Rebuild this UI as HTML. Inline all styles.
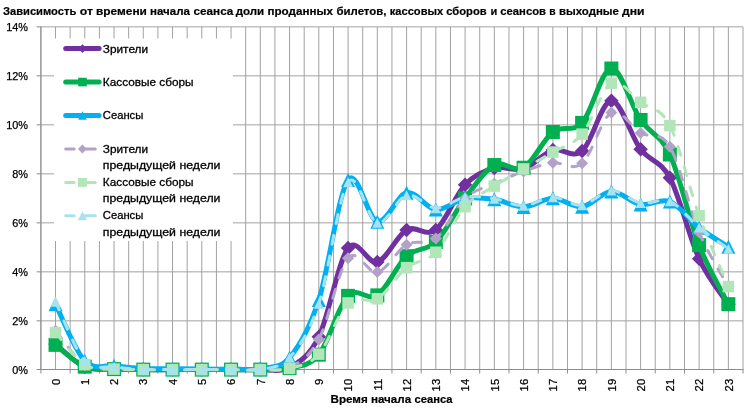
<!DOCTYPE html><html><head><meta charset="utf-8"><style>html,body{margin:0;padding:0;background:#fff}svg{display:block}</style></head><body><svg width="747" height="408" viewBox="0 0 747 408">
<rect width="747" height="408" fill="#fff"/>
<path d="M40.90 26.85V369.85M55.53 26.85V369.85M70.15 26.85V369.85M84.78 26.85V369.85M99.41 26.85V369.85M114.04 26.85V369.85M128.66 26.85V369.85M143.29 26.85V369.85M157.92 26.85V369.85M172.54 26.85V369.85M187.17 26.85V369.85M201.80 26.85V369.85M216.43 26.85V369.85M231.05 26.85V369.85M245.68 26.85V369.85M260.31 26.85V369.85M274.93 26.85V369.85M289.56 26.85V369.85M304.19 26.85V369.85M318.81 26.85V369.85M333.44 26.85V369.85M348.07 26.85V369.85M362.70 26.85V369.85M377.32 26.85V369.85M391.95 26.85V369.85M406.58 26.85V369.85M421.20 26.85V369.85M435.83 26.85V369.85M450.46 26.85V369.85M465.09 26.85V369.85M479.71 26.85V369.85M494.34 26.85V369.85M508.97 26.85V369.85M523.59 26.85V369.85M538.22 26.85V369.85M552.85 26.85V369.85M567.48 26.85V369.85M582.10 26.85V369.85M596.73 26.85V369.85M611.36 26.85V369.85M625.98 26.85V369.85M640.61 26.85V369.85M655.24 26.85V369.85M669.86 26.85V369.85M684.49 26.85V369.85M699.12 26.85V369.85M713.75 26.85V369.85M728.37 26.85V369.85M743.00 26.85V369.85M40.90 26.85H743.00M40.90 75.85H743.00M40.90 124.85H743.00M40.90 173.85H743.00M40.90 222.85H743.00M40.90 271.85H743.00M40.90 320.85H743.00" stroke="#a2a2a2" stroke-width="1" fill="none"/>
<path d="M40.90 369.50V373.50M70.15 369.50V373.50M99.41 369.50V373.50M128.66 369.50V373.50M157.92 369.50V373.50M187.17 369.50V373.50M216.43 369.50V373.50M245.68 369.50V373.50M274.93 369.50V373.50M304.19 369.50V373.50M333.44 369.50V373.50M362.70 369.50V373.50M391.95 369.50V373.50M421.20 369.50V373.50M450.46 369.50V373.50M479.71 369.50V373.50M508.97 369.50V373.50M538.22 369.50V373.50M567.48 369.50V373.50M596.73 369.50V373.50M625.98 369.50V373.50M655.24 369.50V373.50M684.49 369.50V373.50M713.75 369.50V373.50M743.00 369.50V373.50M36.60 26.85H40.90M36.60 75.85H40.90M36.60 124.85H40.90M36.60 173.85H40.90M36.60 222.85H40.90M36.60 271.85H40.90M36.60 320.85H40.90M36.60 369.50H40.90M40.40 369.50H743.50M40.90 26.35V370.00" stroke="#8c8c8c" stroke-width="1" fill="none"/>
<rect x="54" y="38.5" width="179" height="202.5" fill="#fff"/>
<path d="M55.53 344.12 C60.40 347.92 75.03 362.79 84.78 366.91 C94.53 371.03 104.28 368.42 114.04 368.87 C123.79 369.32 133.54 369.48 143.29 369.61 C153.04 369.73 162.79 369.61 172.54 369.61 C182.30 369.61 192.05 369.61 201.80 369.61 C211.55 369.61 221.30 369.61 231.05 369.61 C240.80 369.61 250.55 369.97 260.31 369.61 C270.06 369.24 279.81 372.87 289.56 367.40 C299.31 361.93 309.06 356.66 318.81 336.78 C328.57 316.89 338.32 260.54 348.07 248.09 C357.82 235.63 367.57 265.07 377.32 262.05 C387.07 259.03 396.83 235.30 406.58 229.96 C416.33 224.61 426.08 237.51 435.83 229.96 C445.58 222.40 455.33 194.96 465.09 184.63 C474.84 174.30 484.59 170.58 494.34 167.97 C504.09 165.36 513.84 171.93 523.59 168.95 C533.35 165.97 543.10 153.07 552.85 150.09 C562.60 147.10 572.35 159.27 582.10 151.07 C591.85 142.86 601.60 101.13 611.36 100.84 C621.11 100.55 630.86 136.53 640.61 149.35 C650.36 162.17 660.11 159.52 669.86 177.77 C679.62 196.02 689.37 237.80 699.12 258.87 C708.87 279.94 723.50 296.64 728.37 304.19" stroke="#7030A0" stroke-width="5" fill="none" stroke-linecap="round" stroke-linejoin="round"/>
<path d="M55.53 336.88L62.78 344.12L55.53 351.38L48.28 344.12Z" fill="#7030A0"/>
<path d="M84.78 359.66L92.03 366.91L84.78 374.16L77.53 366.91Z" fill="#7030A0"/>
<path d="M114.04 361.62L121.29 368.87L114.04 376.12L106.79 368.87Z" fill="#7030A0"/>
<path d="M143.29 362.36L150.54 369.61L143.29 376.86L136.04 369.61Z" fill="#7030A0"/>
<path d="M172.54 362.36L179.79 369.61L172.54 376.86L165.29 369.61Z" fill="#7030A0"/>
<path d="M201.80 362.36L209.05 369.61L201.80 376.86L194.55 369.61Z" fill="#7030A0"/>
<path d="M231.05 362.36L238.30 369.61L231.05 376.86L223.80 369.61Z" fill="#7030A0"/>
<path d="M260.31 362.36L267.56 369.61L260.31 376.86L253.06 369.61Z" fill="#7030A0"/>
<path d="M289.56 360.15L296.81 367.40L289.56 374.65L282.31 367.40Z" fill="#7030A0"/>
<path d="M318.81 329.53L326.06 336.78L318.81 344.03L311.56 336.78Z" fill="#7030A0"/>
<path d="M348.07 240.84L355.32 248.09L348.07 255.34L340.82 248.09Z" fill="#7030A0"/>
<path d="M377.32 254.80L384.57 262.05L377.32 269.30L370.07 262.05Z" fill="#7030A0"/>
<path d="M406.58 222.71L413.83 229.96L406.58 237.21L399.33 229.96Z" fill="#7030A0"/>
<path d="M435.83 222.71L443.08 229.96L435.83 237.21L428.58 229.96Z" fill="#7030A0"/>
<path d="M465.09 177.38L472.34 184.63L465.09 191.88L457.84 184.63Z" fill="#7030A0"/>
<path d="M494.34 160.72L501.59 167.97L494.34 175.22L487.09 167.97Z" fill="#7030A0"/>
<path d="M523.59 161.70L530.84 168.95L523.59 176.20L516.34 168.95Z" fill="#7030A0"/>
<path d="M552.85 142.84L560.10 150.09L552.85 157.34L545.60 150.09Z" fill="#7030A0"/>
<path d="M582.10 143.82L589.35 151.07L582.10 158.32L574.85 151.07Z" fill="#7030A0"/>
<path d="M611.36 93.59L618.61 100.84L611.36 108.09L604.11 100.84Z" fill="#7030A0"/>
<path d="M640.61 142.10L647.86 149.35L640.61 156.60L633.36 149.35Z" fill="#7030A0"/>
<path d="M669.86 170.52L677.11 177.77L669.86 185.02L662.61 177.77Z" fill="#7030A0"/>
<path d="M699.12 251.62L706.37 258.87L699.12 266.12L691.87 258.87Z" fill="#7030A0"/>
<path d="M728.37 296.94L735.62 304.19L728.37 311.44L721.12 304.19Z" fill="#7030A0"/>
<path d="M55.53 344.86 C60.40 348.49 75.03 362.62 84.78 366.67 C94.53 370.71 104.28 368.62 114.04 369.12 C123.79 369.61 133.54 369.52 143.29 369.61 C153.04 369.69 162.79 369.61 172.54 369.61 C182.30 369.61 192.05 369.61 201.80 369.61 C211.55 369.61 221.30 369.61 231.05 369.61 C240.80 369.61 250.55 369.85 260.31 369.61 C270.06 369.36 279.81 370.63 289.56 368.14 C299.31 365.64 309.06 366.71 318.81 354.66 C328.57 342.61 338.32 305.74 348.07 295.86 C357.82 285.98 367.57 301.99 377.32 295.37 C387.07 288.75 396.83 265.07 406.58 256.17 C416.33 247.27 426.08 251.60 435.83 241.96 C445.58 232.32 455.33 211.17 465.09 198.35 C474.84 185.53 484.59 170.13 494.34 165.03 C504.09 159.93 513.84 173.24 523.59 167.73 C533.35 162.21 543.10 139.43 552.85 131.96 C562.60 124.48 572.35 133.47 582.10 122.89 C591.85 112.31 601.60 68.99 611.36 68.50 C621.11 68.01 630.86 105.62 640.61 119.95 C650.36 134.28 660.11 133.63 669.86 154.50 C679.62 175.36 689.37 220.20 699.12 245.15 C708.87 270.09 723.50 294.35 728.37 304.19" stroke="#00B050" stroke-width="5" fill="none" stroke-linecap="round" stroke-linejoin="round"/>
<rect x="48.53" y="337.86" width="14.00" height="14.00" fill="#00B050"/>
<rect x="77.78" y="359.67" width="14.00" height="14.00" fill="#00B050"/>
<rect x="107.04" y="362.12" width="14.00" height="14.00" fill="#00B050"/>
<rect x="136.29" y="362.61" width="14.00" height="14.00" fill="#00B050"/>
<rect x="165.54" y="362.61" width="14.00" height="14.00" fill="#00B050"/>
<rect x="194.80" y="362.61" width="14.00" height="14.00" fill="#00B050"/>
<rect x="224.05" y="362.61" width="14.00" height="14.00" fill="#00B050"/>
<rect x="253.31" y="362.61" width="14.00" height="14.00" fill="#00B050"/>
<rect x="282.56" y="361.14" width="14.00" height="14.00" fill="#00B050"/>
<rect x="311.81" y="347.66" width="14.00" height="14.00" fill="#00B050"/>
<rect x="341.07" y="288.86" width="14.00" height="14.00" fill="#00B050"/>
<rect x="370.32" y="288.37" width="14.00" height="14.00" fill="#00B050"/>
<rect x="399.58" y="249.17" width="14.00" height="14.00" fill="#00B050"/>
<rect x="428.83" y="234.96" width="14.00" height="14.00" fill="#00B050"/>
<rect x="458.09" y="191.35" width="14.00" height="14.00" fill="#00B050"/>
<rect x="487.34" y="158.03" width="14.00" height="14.00" fill="#00B050"/>
<rect x="516.59" y="160.73" width="14.00" height="14.00" fill="#00B050"/>
<rect x="545.85" y="124.96" width="14.00" height="14.00" fill="#00B050"/>
<rect x="575.10" y="115.89" width="14.00" height="14.00" fill="#00B050"/>
<rect x="604.36" y="61.50" width="14.00" height="14.00" fill="#00B050"/>
<rect x="633.61" y="112.95" width="14.00" height="14.00" fill="#00B050"/>
<rect x="662.86" y="147.50" width="14.00" height="14.00" fill="#00B050"/>
<rect x="692.12" y="238.15" width="14.00" height="14.00" fill="#00B050"/>
<rect x="721.37" y="297.19" width="14.00" height="14.00" fill="#00B050"/>
<path d="M55.53 304.19 C60.40 313.66 75.03 350.78 84.78 361.03 C94.53 371.28 104.28 364.46 114.04 365.69 C123.79 366.91 133.54 367.85 143.29 368.38 C153.04 368.91 162.79 368.75 172.54 368.87 C182.30 368.99 192.05 369.07 201.80 369.12 C211.55 369.16 221.30 369.20 231.05 369.12 C240.80 369.03 250.55 370.54 260.31 368.62 C270.06 366.71 279.81 369.03 289.56 357.60 C299.31 346.17 309.06 329.63 318.81 300.03 C328.57 270.42 338.32 193.04 348.07 179.98 C357.82 166.91 367.57 219.50 377.32 221.63 C387.07 223.75 396.83 194.72 406.58 192.72 C416.33 190.71 426.08 208.68 435.83 209.62 C445.58 210.56 455.33 200.07 465.09 198.35 C474.84 196.64 484.59 197.90 494.34 199.33 C504.09 200.76 513.84 207.09 523.59 206.93 C533.35 206.76 543.10 198.39 552.85 198.35 C562.60 198.31 572.35 207.82 582.10 206.68 C591.85 205.54 601.60 191.86 611.36 191.49 C621.11 191.12 630.86 202.80 640.61 204.48 C650.36 206.15 660.11 197.66 669.86 201.54 C679.62 205.41 689.37 220.20 699.12 227.75 C708.87 235.30 723.50 243.68 728.37 246.86" stroke="#00B0F0" stroke-width="5" fill="none" stroke-linecap="round" stroke-linejoin="round"/>
<path d="M55.53 297.19L62.53 311.19L48.53 311.19Z" fill="#00B0F0"/>
<path d="M84.78 354.03L91.78 368.03L77.78 368.03Z" fill="#00B0F0"/>
<path d="M114.04 358.69L121.04 372.69L107.04 372.69Z" fill="#00B0F0"/>
<path d="M143.29 361.38L150.29 375.38L136.29 375.38Z" fill="#00B0F0"/>
<path d="M172.54 361.87L179.54 375.87L165.54 375.87Z" fill="#00B0F0"/>
<path d="M201.80 362.12L208.80 376.12L194.80 376.12Z" fill="#00B0F0"/>
<path d="M231.05 362.12L238.05 376.12L224.05 376.12Z" fill="#00B0F0"/>
<path d="M260.31 361.62L267.31 375.62L253.31 375.62Z" fill="#00B0F0"/>
<path d="M289.56 350.60L296.56 364.60L282.56 364.60Z" fill="#00B0F0"/>
<path d="M318.81 293.03L325.81 307.03L311.81 307.03Z" fill="#00B0F0"/>
<path d="M348.07 172.98L355.07 186.98L341.07 186.98Z" fill="#00B0F0"/>
<path d="M377.32 214.63L384.32 228.63L370.32 228.63Z" fill="#00B0F0"/>
<path d="M406.58 185.72L413.58 199.72L399.58 199.72Z" fill="#00B0F0"/>
<path d="M435.83 202.62L442.83 216.62L428.83 216.62Z" fill="#00B0F0"/>
<path d="M465.09 191.35L472.09 205.35L458.09 205.35Z" fill="#00B0F0"/>
<path d="M494.34 192.33L501.34 206.33L487.34 206.33Z" fill="#00B0F0"/>
<path d="M523.59 199.93L530.59 213.93L516.59 213.93Z" fill="#00B0F0"/>
<path d="M552.85 191.35L559.85 205.35L545.85 205.35Z" fill="#00B0F0"/>
<path d="M582.10 199.68L589.10 213.68L575.10 213.68Z" fill="#00B0F0"/>
<path d="M611.36 184.49L618.36 198.49L604.36 198.49Z" fill="#00B0F0"/>
<path d="M640.61 197.48L647.61 211.48L633.61 211.48Z" fill="#00B0F0"/>
<path d="M669.86 194.54L676.86 208.54L662.86 208.54Z" fill="#00B0F0"/>
<path d="M699.12 220.75L706.12 234.75L692.12 234.75Z" fill="#00B0F0"/>
<path d="M728.37 239.86L735.37 253.86L721.37 253.86Z" fill="#00B0F0"/>
<path d="M55.53 330.65 C60.40 336.37 75.03 358.58 84.78 364.95 C94.53 371.32 104.28 368.09 114.04 368.87 C123.79 369.65 133.54 369.48 143.29 369.61 C153.04 369.73 162.79 369.61 172.54 369.61 C182.30 369.61 192.05 369.61 201.80 369.61 C211.55 369.61 221.30 369.61 231.05 369.61 C240.80 369.61 250.55 369.97 260.31 369.61 C270.06 369.24 279.81 372.42 289.56 367.40 C299.31 362.38 309.06 357.68 318.81 339.47 C328.57 321.26 338.32 269.36 348.07 258.13 C357.82 246.90 367.57 274.34 377.32 272.10 C387.07 269.85 396.83 250.25 406.58 244.66 C416.33 239.06 426.08 246.25 435.83 238.53 C445.58 230.81 455.33 207.50 465.09 198.35 C474.84 189.20 484.59 188.14 494.34 183.65 C504.09 179.16 513.84 174.87 523.59 171.40 C533.35 167.93 543.10 164.17 552.85 162.83 C562.60 161.48 572.35 171.69 582.10 163.32 C591.85 154.94 601.60 117.66 611.36 112.60 C621.11 107.54 630.86 127.26 640.61 132.94 C650.36 138.61 660.11 130.12 669.86 146.66 C679.62 163.19 689.37 208.84 699.12 232.16 C708.87 255.48 723.50 277.49 728.37 286.55" stroke="#B3A2C7" stroke-width="3" fill="none" stroke-linecap="round" stroke-linejoin="round" stroke-dasharray="9 12"/>
<path d="M55.53 324.65L61.53 330.65L55.53 336.65L49.53 330.65Z" fill="#B3A2C7"/>
<path d="M84.78 358.95L90.78 364.95L84.78 370.95L78.78 364.95Z" fill="#B3A2C7"/>
<path d="M114.04 362.87L120.04 368.87L114.04 374.87L108.04 368.87Z" fill="#B3A2C7"/>
<path d="M143.29 363.61L149.29 369.61L143.29 375.61L137.29 369.61Z" fill="#B3A2C7"/>
<path d="M172.54 363.61L178.54 369.61L172.54 375.61L166.54 369.61Z" fill="#B3A2C7"/>
<path d="M201.80 363.61L207.80 369.61L201.80 375.61L195.80 369.61Z" fill="#B3A2C7"/>
<path d="M231.05 363.61L237.05 369.61L231.05 375.61L225.05 369.61Z" fill="#B3A2C7"/>
<path d="M260.31 363.61L266.31 369.61L260.31 375.61L254.31 369.61Z" fill="#B3A2C7"/>
<path d="M289.56 361.40L295.56 367.40L289.56 373.40L283.56 367.40Z" fill="#B3A2C7"/>
<path d="M318.81 333.47L324.81 339.47L318.81 345.47L312.81 339.47Z" fill="#B3A2C7"/>
<path d="M348.07 252.13L354.07 258.13L348.07 264.13L342.07 258.13Z" fill="#B3A2C7"/>
<path d="M377.32 266.10L383.32 272.10L377.32 278.10L371.32 272.10Z" fill="#B3A2C7"/>
<path d="M406.58 238.66L412.58 244.66L406.58 250.66L400.58 244.66Z" fill="#B3A2C7"/>
<path d="M435.83 232.53L441.83 238.53L435.83 244.53L429.83 238.53Z" fill="#B3A2C7"/>
<path d="M465.09 192.35L471.09 198.35L465.09 204.35L459.09 198.35Z" fill="#B3A2C7"/>
<path d="M494.34 177.65L500.34 183.65L494.34 189.65L488.34 183.65Z" fill="#B3A2C7"/>
<path d="M523.59 165.40L529.59 171.40L523.59 177.40L517.59 171.40Z" fill="#B3A2C7"/>
<path d="M552.85 156.83L558.85 162.83L552.85 168.83L546.85 162.83Z" fill="#B3A2C7"/>
<path d="M582.10 157.32L588.10 163.32L582.10 169.32L576.10 163.32Z" fill="#B3A2C7"/>
<path d="M611.36 106.60L617.36 112.60L611.36 118.60L605.36 112.60Z" fill="#B3A2C7"/>
<path d="M640.61 126.94L646.61 132.94L640.61 138.94L634.61 132.94Z" fill="#B3A2C7"/>
<path d="M669.86 140.66L675.86 146.66L669.86 152.66L663.86 146.66Z" fill="#B3A2C7"/>
<path d="M699.12 226.16L705.12 232.16L699.12 238.16L693.12 232.16Z" fill="#B3A2C7"/>
<path d="M728.37 280.55L734.37 286.55L728.37 292.55L722.37 286.55Z" fill="#B3A2C7"/>
<path d="M55.53 332.61 C60.40 337.96 75.03 358.62 84.78 364.71 C94.53 370.79 104.28 368.30 114.04 369.12 C123.79 369.93 133.54 369.52 143.29 369.61 C153.04 369.69 162.79 369.61 172.54 369.61 C182.30 369.61 192.05 369.61 201.80 369.61 C211.55 369.61 221.30 369.61 231.05 369.61 C240.80 369.61 250.55 369.81 260.31 369.61 C270.06 369.40 279.81 370.95 289.56 368.38 C299.31 365.81 309.06 365.07 318.81 354.17 C328.57 343.27 338.32 312.19 348.07 302.97 C357.82 293.74 367.57 304.68 377.32 298.80 C387.07 292.92 396.83 275.44 406.58 267.69 C416.33 259.93 426.08 262.42 435.83 252.25 C445.58 242.08 455.33 217.71 465.09 206.68 C474.84 195.66 484.59 192.39 494.34 186.10 C504.09 179.81 513.84 174.63 523.59 168.95 C533.35 163.27 543.10 157.84 552.85 152.05 C562.60 146.25 572.35 145.63 582.10 134.16 C591.85 122.69 601.60 88.51 611.36 83.20 C621.11 77.89 630.86 95.25 640.61 102.31 C650.36 109.37 660.11 106.68 669.86 125.59 C679.62 144.49 689.37 188.92 699.12 215.75 C708.87 242.57 723.50 274.75 728.37 286.55" stroke="#B1E6B9" stroke-width="3" fill="none" stroke-linecap="round" stroke-linejoin="round" stroke-dasharray="9 12"/>
<rect x="49.78" y="326.86" width="11.50" height="11.50" fill="#B1E6B9"/>
<rect x="79.03" y="358.96" width="11.50" height="11.50" fill="#B1E6B9"/>
<rect x="108.29" y="363.37" width="11.50" height="11.50" fill="#B1E6B9"/>
<rect x="137.54" y="363.86" width="11.50" height="11.50" fill="#B1E6B9"/>
<rect x="166.79" y="363.86" width="11.50" height="11.50" fill="#B1E6B9"/>
<rect x="196.05" y="363.86" width="11.50" height="11.50" fill="#B1E6B9"/>
<rect x="225.30" y="363.86" width="11.50" height="11.50" fill="#B1E6B9"/>
<rect x="254.56" y="363.86" width="11.50" height="11.50" fill="#B1E6B9"/>
<rect x="283.81" y="362.63" width="11.50" height="11.50" fill="#B1E6B9"/>
<rect x="313.06" y="348.42" width="11.50" height="11.50" fill="#B1E6B9"/>
<rect x="342.32" y="297.22" width="11.50" height="11.50" fill="#B1E6B9"/>
<rect x="371.57" y="293.05" width="11.50" height="11.50" fill="#B1E6B9"/>
<rect x="400.83" y="261.94" width="11.50" height="11.50" fill="#B1E6B9"/>
<rect x="430.08" y="246.50" width="11.50" height="11.50" fill="#B1E6B9"/>
<rect x="459.34" y="200.93" width="11.50" height="11.50" fill="#B1E6B9"/>
<rect x="488.59" y="180.35" width="11.50" height="11.50" fill="#B1E6B9"/>
<rect x="517.84" y="163.20" width="11.50" height="11.50" fill="#B1E6B9"/>
<rect x="547.10" y="146.30" width="11.50" height="11.50" fill="#B1E6B9"/>
<rect x="576.35" y="128.41" width="11.50" height="11.50" fill="#B1E6B9"/>
<rect x="605.61" y="77.45" width="11.50" height="11.50" fill="#B1E6B9"/>
<rect x="634.86" y="96.56" width="11.50" height="11.50" fill="#B1E6B9"/>
<rect x="664.11" y="119.84" width="11.50" height="11.50" fill="#B1E6B9"/>
<rect x="693.37" y="210.00" width="11.50" height="11.50" fill="#B1E6B9"/>
<rect x="722.62" y="280.80" width="11.50" height="11.50" fill="#B1E6B9"/>
<path d="M55.53 301.74 C60.40 311.62 75.03 350.17 84.78 361.03 C94.53 371.89 104.28 365.52 114.04 366.91 C123.79 368.30 133.54 368.91 143.29 369.36 C153.04 369.81 162.79 369.56 172.54 369.61 C182.30 369.65 192.05 369.61 201.80 369.61 C211.55 369.61 221.30 369.65 231.05 369.61 C240.80 369.56 250.55 371.36 260.31 369.36 C270.06 367.36 279.81 368.54 289.56 357.60 C299.31 346.66 309.06 332.94 318.81 303.70 C328.57 274.46 338.32 195.66 348.07 182.18 C357.82 168.71 367.57 220.69 377.32 222.85 C387.07 225.01 396.83 197.62 406.58 195.17 C416.33 192.72 426.08 207.82 435.83 208.15 C445.58 208.48 455.33 198.68 465.09 197.13 C474.84 195.57 484.59 197.41 494.34 198.84 C504.09 200.27 513.84 205.99 523.59 205.70 C533.35 205.41 543.10 197.21 552.85 197.13 C562.60 197.04 572.35 206.31 582.10 205.21 C591.85 204.11 601.60 190.88 611.36 190.51 C621.11 190.14 630.86 201.21 640.61 203.01 C650.36 204.80 660.11 197.21 669.86 201.29 C679.62 205.37 689.37 219.58 699.12 227.51 C708.87 235.43 723.50 245.27 728.37 248.82" stroke="#A6E2F0" stroke-width="3" fill="none" stroke-linecap="round" stroke-linejoin="round" stroke-dasharray="9 12"/>
<path d="M55.53 296.74L60.53 306.74L50.53 306.74Z" fill="#A6E2F0"/>
<path d="M84.78 356.03L89.78 366.03L79.78 366.03Z" fill="#A6E2F0"/>
<path d="M114.04 361.91L119.04 371.91L109.04 371.91Z" fill="#A6E2F0"/>
<path d="M143.29 364.36L148.29 374.36L138.29 374.36Z" fill="#A6E2F0"/>
<path d="M172.54 364.61L177.54 374.61L167.54 374.61Z" fill="#A6E2F0"/>
<path d="M201.80 364.61L206.80 374.61L196.80 374.61Z" fill="#A6E2F0"/>
<path d="M231.05 364.61L236.05 374.61L226.05 374.61Z" fill="#A6E2F0"/>
<path d="M260.31 364.36L265.31 374.36L255.31 374.36Z" fill="#A6E2F0"/>
<path d="M289.56 352.60L294.56 362.60L284.56 362.60Z" fill="#A6E2F0"/>
<path d="M318.81 298.70L323.81 308.70L313.81 308.70Z" fill="#A6E2F0"/>
<path d="M348.07 177.18L353.07 187.18L343.07 187.18Z" fill="#A6E2F0"/>
<path d="M377.32 217.85L382.32 227.85L372.32 227.85Z" fill="#A6E2F0"/>
<path d="M406.58 190.17L411.58 200.17L401.58 200.17Z" fill="#A6E2F0"/>
<path d="M435.83 203.15L440.83 213.15L430.83 213.15Z" fill="#A6E2F0"/>
<path d="M465.09 192.13L470.09 202.13L460.09 202.13Z" fill="#A6E2F0"/>
<path d="M494.34 193.84L499.34 203.84L489.34 203.84Z" fill="#A6E2F0"/>
<path d="M523.59 200.70L528.59 210.70L518.59 210.70Z" fill="#A6E2F0"/>
<path d="M552.85 192.13L557.85 202.13L547.85 202.13Z" fill="#A6E2F0"/>
<path d="M582.10 200.21L587.10 210.21L577.10 210.21Z" fill="#A6E2F0"/>
<path d="M611.36 185.51L616.36 195.51L606.36 195.51Z" fill="#A6E2F0"/>
<path d="M640.61 198.01L645.61 208.01L635.61 208.01Z" fill="#A6E2F0"/>
<path d="M669.86 196.29L674.86 206.29L664.86 206.29Z" fill="#A6E2F0"/>
<path d="M699.12 222.51L704.12 232.51L694.12 232.51Z" fill="#A6E2F0"/>
<path d="M728.37 243.82L733.37 253.82L723.37 253.82Z" fill="#A6E2F0"/>
<path d="M65.7 48.6H99.1" stroke="#7030A0" stroke-width="5" stroke-linecap="round"/>
<path d="M82.50 44.30L86.80 48.60L82.50 52.90L78.20 48.60Z" fill="#7030A0"/>
<text x="102.8" y="52.8" font-family="Liberation Sans, sans-serif" font-size="11.83" fill="#000" stroke="#000" stroke-width="0.3" textLength="45.3" lengthAdjust="spacingAndGlyphs">Зрители</text>
<path d="M65.7 82.1H99.1" stroke="#00B050" stroke-width="5" stroke-linecap="round"/>
<rect x="78.20" y="77.75" width="8.60" height="8.60" fill="#00B050"/>
<text x="102.8" y="86.1" font-family="Liberation Sans, sans-serif" font-size="11.83" fill="#000" stroke="#000" stroke-width="0.3" textLength="90.8" lengthAdjust="spacingAndGlyphs">Кассовые сборы</text>
<path d="M65.7 115.5H99.1" stroke="#00B0F0" stroke-width="5" stroke-linecap="round"/>
<path d="M82.50 111.20L86.80 119.80L78.20 119.80Z" fill="#00B0F0"/>
<text x="102.8" y="119.4" font-family="Liberation Sans, sans-serif" font-size="11.83" fill="#000" stroke="#000" stroke-width="0.3" textLength="40.5" lengthAdjust="spacingAndGlyphs">Сеансы</text>
<path d="M65.7 149.0H74.1M84 149.0H95.3" stroke="#B3A2C7" stroke-width="3" stroke-linecap="round"/>
<path d="M82.40 144.50L86.85 148.95L82.40 153.40L77.95 148.95Z" fill="#B3A2C7"/>
<text x="102.8" y="152.7" font-family="Liberation Sans, sans-serif" font-size="11.83" fill="#000" stroke="#000" stroke-width="0.3" textLength="45.3" lengthAdjust="spacingAndGlyphs">Зрители</text>
<text x="102.8" y="169.0" font-family="Liberation Sans, sans-serif" font-size="11.83" fill="#000" stroke="#000" stroke-width="0.3" textLength="117.7" lengthAdjust="spacingAndGlyphs">предыдущей недели</text>
<path d="M65.7 182.4H74.1M84 182.4H95.3" stroke="#B1E6B9" stroke-width="3" stroke-linecap="round"/>
<rect x="77.95" y="177.95" width="8.90" height="8.90" fill="#B1E6B9"/>
<text x="102.8" y="186.0" font-family="Liberation Sans, sans-serif" font-size="11.83" fill="#000" stroke="#000" stroke-width="0.3" textLength="90.8" lengthAdjust="spacingAndGlyphs">Кассовые сборы</text>
<text x="102.8" y="202.3" font-family="Liberation Sans, sans-serif" font-size="11.83" fill="#000" stroke="#000" stroke-width="0.3" textLength="117.7" lengthAdjust="spacingAndGlyphs">предыдущей недели</text>
<path d="M65.7 215.8H74.1M84 215.8H95.3" stroke="#A6E2F0" stroke-width="3" stroke-linecap="round"/>
<path d="M82.40 211.40L86.85 220.30L77.95 220.30Z" fill="#A6E2F0"/>
<text x="102.8" y="219.3" font-family="Liberation Sans, sans-serif" font-size="11.83" fill="#000" stroke="#000" stroke-width="0.3" textLength="40.5" lengthAdjust="spacingAndGlyphs">Сеансы</text>
<text x="102.8" y="235.6" font-family="Liberation Sans, sans-serif" font-size="11.83" fill="#000" stroke="#000" stroke-width="0.3" textLength="117.7" lengthAdjust="spacingAndGlyphs">предыдущей недели</text>
<text x="28" y="31.1" font-family="Liberation Sans, sans-serif" font-size="10.9" text-anchor="end" fill="#000" stroke="#000" stroke-width="0.25">14%</text>
<text x="28" y="80.0" font-family="Liberation Sans, sans-serif" font-size="10.9" text-anchor="end" fill="#000" stroke="#000" stroke-width="0.25">12%</text>
<text x="28" y="129.0" font-family="Liberation Sans, sans-serif" font-size="10.9" text-anchor="end" fill="#000" stroke="#000" stroke-width="0.25">10%</text>
<text x="28" y="178.0" font-family="Liberation Sans, sans-serif" font-size="10.9" text-anchor="end" fill="#000" stroke="#000" stroke-width="0.25">8%</text>
<text x="28" y="227.0" font-family="Liberation Sans, sans-serif" font-size="10.9" text-anchor="end" fill="#000" stroke="#000" stroke-width="0.25">6%</text>
<text x="28" y="276.1" font-family="Liberation Sans, sans-serif" font-size="10.9" text-anchor="end" fill="#000" stroke="#000" stroke-width="0.25">4%</text>
<text x="28" y="325.1" font-family="Liberation Sans, sans-serif" font-size="10.9" text-anchor="end" fill="#000" stroke="#000" stroke-width="0.25">2%</text>
<text x="28" y="374.1" font-family="Liberation Sans, sans-serif" font-size="10.9" text-anchor="end" fill="#000" stroke="#000" stroke-width="0.25">0%</text>
<text transform="translate(59.73 378.8) rotate(-90)" font-family="Liberation Sans, sans-serif" font-size="11.3" text-anchor="end" fill="#000" stroke="#000" stroke-width="0.25">0</text>
<text transform="translate(88.98 378.8) rotate(-90)" font-family="Liberation Sans, sans-serif" font-size="11.3" text-anchor="end" fill="#000" stroke="#000" stroke-width="0.25">1</text>
<text transform="translate(118.24 378.8) rotate(-90)" font-family="Liberation Sans, sans-serif" font-size="11.3" text-anchor="end" fill="#000" stroke="#000" stroke-width="0.25">2</text>
<text transform="translate(147.49 378.8) rotate(-90)" font-family="Liberation Sans, sans-serif" font-size="11.3" text-anchor="end" fill="#000" stroke="#000" stroke-width="0.25">3</text>
<text transform="translate(176.74 378.8) rotate(-90)" font-family="Liberation Sans, sans-serif" font-size="11.3" text-anchor="end" fill="#000" stroke="#000" stroke-width="0.25">4</text>
<text transform="translate(206.00 378.8) rotate(-90)" font-family="Liberation Sans, sans-serif" font-size="11.3" text-anchor="end" fill="#000" stroke="#000" stroke-width="0.25">5</text>
<text transform="translate(235.25 378.8) rotate(-90)" font-family="Liberation Sans, sans-serif" font-size="11.3" text-anchor="end" fill="#000" stroke="#000" stroke-width="0.25">6</text>
<text transform="translate(264.51 378.8) rotate(-90)" font-family="Liberation Sans, sans-serif" font-size="11.3" text-anchor="end" fill="#000" stroke="#000" stroke-width="0.25">7</text>
<text transform="translate(293.76 378.8) rotate(-90)" font-family="Liberation Sans, sans-serif" font-size="11.3" text-anchor="end" fill="#000" stroke="#000" stroke-width="0.25">8</text>
<text transform="translate(323.01 378.8) rotate(-90)" font-family="Liberation Sans, sans-serif" font-size="11.3" text-anchor="end" fill="#000" stroke="#000" stroke-width="0.25">9</text>
<text transform="translate(352.27 378.8) rotate(-90)" font-family="Liberation Sans, sans-serif" font-size="11.3" text-anchor="end" fill="#000" stroke="#000" stroke-width="0.25">10</text>
<text transform="translate(381.52 378.8) rotate(-90)" font-family="Liberation Sans, sans-serif" font-size="11.3" text-anchor="end" fill="#000" stroke="#000" stroke-width="0.25">11</text>
<text transform="translate(410.78 378.8) rotate(-90)" font-family="Liberation Sans, sans-serif" font-size="11.3" text-anchor="end" fill="#000" stroke="#000" stroke-width="0.25">12</text>
<text transform="translate(440.03 378.8) rotate(-90)" font-family="Liberation Sans, sans-serif" font-size="11.3" text-anchor="end" fill="#000" stroke="#000" stroke-width="0.25">13</text>
<text transform="translate(469.29 378.8) rotate(-90)" font-family="Liberation Sans, sans-serif" font-size="11.3" text-anchor="end" fill="#000" stroke="#000" stroke-width="0.25">14</text>
<text transform="translate(498.54 378.8) rotate(-90)" font-family="Liberation Sans, sans-serif" font-size="11.3" text-anchor="end" fill="#000" stroke="#000" stroke-width="0.25">15</text>
<text transform="translate(527.79 378.8) rotate(-90)" font-family="Liberation Sans, sans-serif" font-size="11.3" text-anchor="end" fill="#000" stroke="#000" stroke-width="0.25">16</text>
<text transform="translate(557.05 378.8) rotate(-90)" font-family="Liberation Sans, sans-serif" font-size="11.3" text-anchor="end" fill="#000" stroke="#000" stroke-width="0.25">17</text>
<text transform="translate(586.30 378.8) rotate(-90)" font-family="Liberation Sans, sans-serif" font-size="11.3" text-anchor="end" fill="#000" stroke="#000" stroke-width="0.25">18</text>
<text transform="translate(615.56 378.8) rotate(-90)" font-family="Liberation Sans, sans-serif" font-size="11.3" text-anchor="end" fill="#000" stroke="#000" stroke-width="0.25">19</text>
<text transform="translate(644.81 378.8) rotate(-90)" font-family="Liberation Sans, sans-serif" font-size="11.3" text-anchor="end" fill="#000" stroke="#000" stroke-width="0.25">20</text>
<text transform="translate(674.06 378.8) rotate(-90)" font-family="Liberation Sans, sans-serif" font-size="11.3" text-anchor="end" fill="#000" stroke="#000" stroke-width="0.25">21</text>
<text transform="translate(703.32 378.8) rotate(-90)" font-family="Liberation Sans, sans-serif" font-size="11.3" text-anchor="end" fill="#000" stroke="#000" stroke-width="0.25">22</text>
<text transform="translate(732.57 378.8) rotate(-90)" font-family="Liberation Sans, sans-serif" font-size="11.3" text-anchor="end" fill="#000" stroke="#000" stroke-width="0.25">23</text>
<g font-family="Liberation Sans, sans-serif" font-size="11.43" font-weight="bold" fill="#000" stroke="#000" stroke-width="0.2">
<text x="3.0" y="14.8" textLength="73.3" lengthAdjust="spacingAndGlyphs">Зависимость</text>
<text x="79.8" y="14.8" textLength="13.2" lengthAdjust="spacingAndGlyphs">от</text>
<text x="96.0" y="14.8" textLength="50.9" lengthAdjust="spacingAndGlyphs">времени</text>
<text x="150.0" y="14.8" textLength="39.9" lengthAdjust="spacingAndGlyphs">начала</text>
<text x="193.5" y="14.8" textLength="39.9" lengthAdjust="spacingAndGlyphs">сеанса</text>
<text x="235.7" y="14.8" textLength="28.5" lengthAdjust="spacingAndGlyphs">доли</text>
<text x="267.4" y="14.8" textLength="65.5" lengthAdjust="spacingAndGlyphs">проданных</text>
<text x="336.5" y="14.8" textLength="49.9" lengthAdjust="spacingAndGlyphs">билетов,</text>
<text x="389.7" y="14.8" textLength="53.5" lengthAdjust="spacingAndGlyphs">кассовых</text>
<text x="446.3" y="14.8" textLength="40.3" lengthAdjust="spacingAndGlyphs">сборов</text>
<text x="490.4" y="14.8" textLength="6.8" lengthAdjust="spacingAndGlyphs">и</text>
<text x="500.3" y="14.8" textLength="45.7" lengthAdjust="spacingAndGlyphs">сеансов</text>
<text x="549.2" y="14.8" textLength="6.4" lengthAdjust="spacingAndGlyphs">в</text>
<text x="559.0" y="14.8" textLength="59.9" lengthAdjust="spacingAndGlyphs">выходные</text>
<text x="622.0" y="14.8" textLength="22.5" lengthAdjust="spacingAndGlyphs">дни</text>
</g>
<g font-family="Liberation Sans, sans-serif" font-size="11.43" font-weight="bold" fill="#000" stroke="#000" stroke-width="0.2">
<text x="330.5" y="402.8" textLength="37.3" lengthAdjust="spacingAndGlyphs">Время</text>
<text x="370.9" y="402.8" textLength="40.2" lengthAdjust="spacingAndGlyphs">начала</text>
<text x="414.6" y="402.8" textLength="38.0" lengthAdjust="spacingAndGlyphs">сеанса</text>
</g>
</svg></body></html>
